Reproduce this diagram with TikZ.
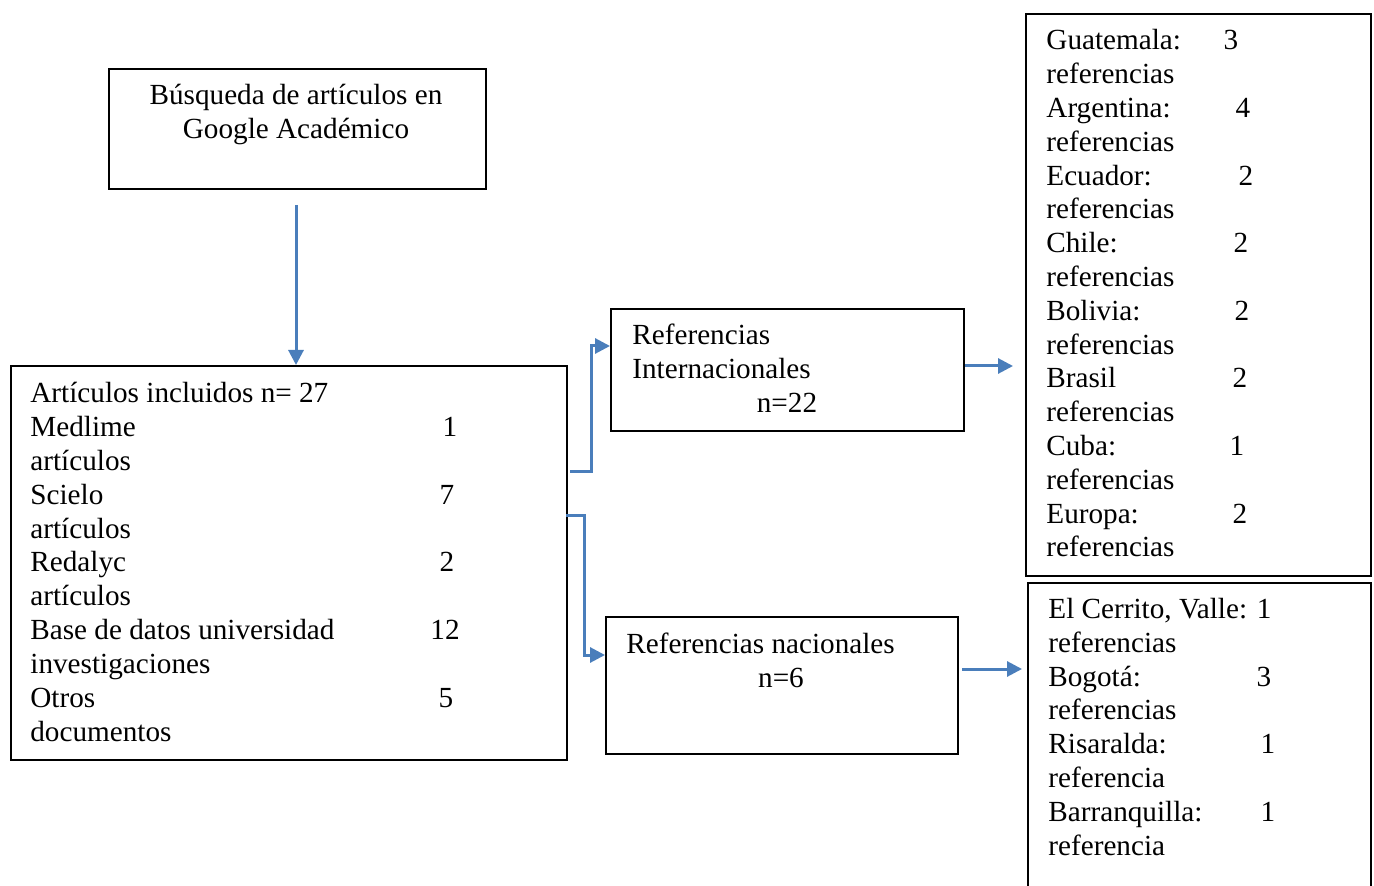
\documentclass[tikz,border=0pt]{standalone}
\usepackage{fontspec}
\setmainfont{Liberation Serif}
\usetikzlibrary{arrows.meta}
\newlength\px
\setlength\px{0.5pt}
\definecolor{linkblue}{RGB}{74,126,187}
\tikzset{
  box/.style={draw=black, line width=0.8pt, anchor=north west, inner sep=0pt, fill=white},
  txt/.style={anchor=base west, inner sep=0pt, font=\fontsize{14.6pt}{16.9pt}\selectfont},
  num/.style={anchor=base, inner sep=0pt, font=\fontsize{14.6pt}{16.9pt}\selectfont},
  ctr/.style={anchor=base, inner sep=0pt, font=\fontsize{14.6pt}{16.9pt}\selectfont},
  arr/.style={draw=linkblue, line width=1.5pt, -{Triangle[length=7.5pt, width=7.5pt]}},
}
\begin{document}
\begin{tikzpicture}[x=0.5pt, y=-0.5pt]
\useasboundingbox (0,0) rectangle (1374,886);

% boxes
\node[box, minimum width=377\px, minimum height=120\px] (b1) at (108,68) {};
\node[box, minimum width=556\px, minimum height=394\px] (b2) at (10,365) {};
\node[box, minimum width=353\px, minimum height=122\px] (b3) at (610,308) {};
\node[box, minimum width=352\px, minimum height=137\px] (b4) at (605,616) {};
\node[box, minimum width=345\px, minimum height=562\px] (b5) at (1025,13) {};
\node[box, minimum width=343\px, minimum height=330\px] (b6) at (1027,582) {};

% search box
\node[ctr] (t1a) at (296,105) {Búsqueda de artículos en};
\node[ctr] (t1b) at (296,139) {Google Académico};

% included articles
\foreach \t [count=\i from 0] in {Artículos incluidos n= 27, Medlime, artículos, Scielo, artículos, Redalyc, artículos, Base de datos universidad, investigaciones, Otros, documentos}
  \node[txt] (t2-\i) at (30,403+\i*33.8) {\t};
\foreach \n/\x/\k in {1/450/1, 7/447/3, 2/447/5, 12/445/7, 5/446/9}
  \node[num] (n2-\k) at (\x,403+\k*33.8) {\n};

% international references
\node[txt] (t3a) at (632,345) {Referencias};
\node[txt] (t3b) at (632,379) {Internacionales};
\node[ctr] (t3c) at (787,413) {n=22};

% national references
\node[txt] (t4a) at (626,653) {Referencias nacionales};
\node[ctr] (t4b) at (781,687) {n=6};

% countries
\foreach \c/\n/\x [count=\i from 0] in {Guatemala:/3/1231, Argentina:/4/1243, Ecuador:/2/1246, Chile:/2/1241, Bolivia:/2/1242, Brasil/2/1240, Cuba:/1/1237, Europa:/2/1240} {
  \node[txt] (t5c-\i) at (1046,50+2*\i*33.8) {\c};
  \node[num] (n5-\i) at (\x,50+2*\i*33.8) {\n};
  \node[txt] (t5r-\i) at (1046,50+2*\i*33.8+33.8) {referencias};
}

% regions
\node[txt] (t6-0) at (1048,618) {El Cerrito, Valle: 1};
\node[txt] (t6-1) at (1048,652) {referencias};
\node[txt] (t6-2) at (1048,686) {Bogotá:};
\node[num] (n6-2) at (1264,686) {3};
\node[txt] (t6-3) at (1048,719) {referencias};
\node[txt] (t6-4) at (1048,753) {Risaralda:};
\node[num] (n6-4) at (1268,753) {1};
\node[txt] (t6-5) at (1048,787) {referencia};
\node[txt] (t6-6) at (1048,821) {Barranquilla:};
\node[num] (n6-6) at (1268,821) {1};
\node[txt] (t6-7) at (1048,855) {referencia};

% connectors
\coordinate (s0) at (296,205);
\draw[arr] (s0) -- (b2.north -| s0);
\coordinate (s1) at (570,472);
\draw[arr] (s1) -| (591,346) -- (b3.west |- 591,346);
\coordinate (s2) at (566,516);
\draw[arr] (s2) -| (584,655) -- (b4.west |- 584,655);
\coordinate (s3) at (965,366);
\coordinate (e3) at (1013,366);
\draw[arr] (s3) -- (e3);
\coordinate (s4) at (962,669);
\coordinate (e4) at (1022,669);
\draw[arr] (s4) -- (e4);
\end{tikzpicture}
\end{document}
